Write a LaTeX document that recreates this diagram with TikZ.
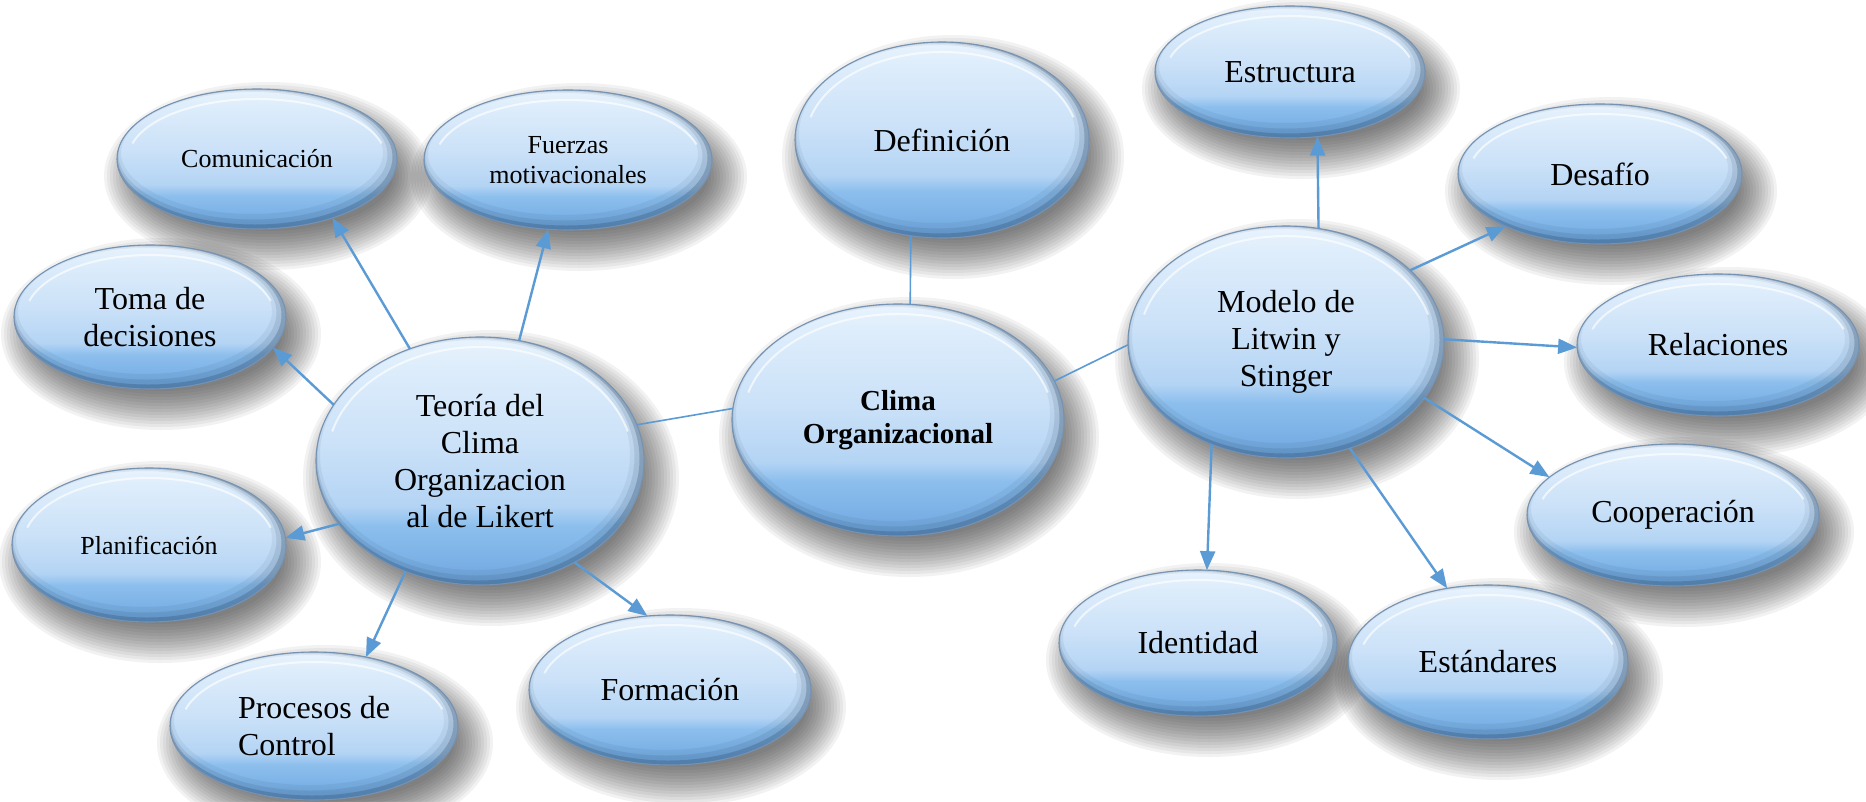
\documentclass[tikz,border=0pt]{standalone}
\usepackage{fontspec}
\setmainfont{Liberation Serif}
\usetikzlibrary{shapes.geometric, arrows.meta, calc}

\pgfdeclarelayer{shadowlayer}
\pgfsetlayers{shadowlayer,main}

% palette
\definecolor{linkblue}{HTML}{5B9BD5}
\definecolor{bubA}{HTML}{6EA5DC}
\definecolor{bubB}{HTML}{7DB3E7}
\definecolor{bubC}{HTML}{8DBFED}
\definecolor{bubD}{HTML}{B4D4F4}
\definecolor{bubE}{HTML}{CCE2F8}
\definecolor{bubF}{HTML}{DCECFB}
\definecolor{bubG}{HTML}{E8F3FD}
\definecolor{rimcol}{HTML}{7592B2}
\definecolor{bevelcol}{HTML}{23405F}
\definecolor{shadowcol}{HTML}{202020}

% vertical fill of the bubbles (path spans 25bp..75bp)
\pgfdeclareverticalshading{bubblefill}{100bp}{%
  color(0bp)=(bubA); color(25bp)=(bubA); color(31bp)=(bubB);
  color(37bp)=(bubC); color(41bp)=(bubD); color(54bp)=(bubE);
  color(68bp)=(bubF); color(75bp)=(bubG); color(100bp)=(bubG)}

\tikzset{
  shadowstep/.style={fill=shadowcol, fill opacity=.055},
  bevel/.style={draw=bevelcol},
  gloss/.style={draw=white, line width=2pt, draw opacity=.65},
  rim/.style={draw=rimcol, line width=1.1pt},
  bubblenode/.style={ellipse, inner sep=0pt, outer sep=0pt, align=center,
      text=black},
  bigtext/.style={font=\fontsize{32}{37}\selectfont},
  smalltext/.style={font=\fontsize{26}{30}\selectfont},
  boldtext/.style={font=\fontsize{29}{33}\selectfont\bfseries},
  plainlink/.style={draw=linkblue, line width=1.6pt},
  arrowlink/.style={draw=linkblue, line width=2.4pt,
      -{Triangle[length=19pt, width=15pt]}},
}

% #1 name, #2 x, #3 y, #4 x radius, #5 y radius, #6 text style, #7 text
\newcommand\drawbubble[7]{%
  \begin{pgfonlayer}{shadowlayer}
    % soft drop shadow, built from stacked translucent ellipses
    \foreach \k in {0,...,13}{
      \fill[shadowstep] ($(#2,#3)+(11,17)$)
        ellipse [x radius={#4+24-3*\k}, y radius={#5+24-3*\k}];
    }
  \end{pgfonlayer}
  \shade[shading=bubblefill] (#2,#3) ellipse [x radius=#4, y radius=#5];
  \begin{scope}
    \clip (#2,#3) ellipse [x radius=#4, y radius=#5];
    \draw[bevel, line width=18pt, draw opacity=.07]
      ($(#2,#3)+(-5,-6)$) ellipse [x radius=#4, y radius=#5];
    \draw[bevel, line width=11pt, draw opacity=.12]
      ($(#2,#3)+(-4,-4)$) ellipse [x radius=#4, y radius=#5];
    \draw[bevel, line width=5pt, draw opacity=.25]
      ($(#2,#3)+(-2,-2)$) ellipse [x radius=#4, y radius=#5];
    \draw[gloss] ($(#2,#3)+({(#4-11)*cos(195)},{(#5-10)*sin(195)})$)
      arc [start angle=195, end angle=345, x radius={#4-11}, y radius={#5-10}];
  \end{scope}
  \draw[rim] (#2,#3) ellipse [x radius=#4, y radius=#5];
  \node[bubblenode, #6, minimum width={2*#4pt}, minimum height={2*#5pt}]
    (#1) at (#2,#3) {#7};
}

\begin{document}
\begin{tikzpicture}[x=1pt, y=-1pt]
  \begin{pgfonlayer}{shadowlayer}
    \fill[white] (0,0) rectangle (1866,801);
  \end{pgfonlayer}
  \useasboundingbox (0,0) rectangle (1866,801);

  % central concept and the two theories
  \drawbubble{clima}{898}{420}{166}{116}{boldtext}{Clima\\Organizacional}
  \drawbubble{teoria}{480}{461}{164}{124}{bigtext}{Teoría del\\Clima\\Organizacion\\al de Likert}
  \drawbubble{modelo}{1286}{342}{158}{116}{bigtext}{Modelo de\\Litwin y\\Stinger}
  \drawbubble{defin}{942}{140}{147}{98}{bigtext}{Definición}

  % Likert dimensions
  \drawbubble{comun}{257}{159}{140}{70}{smalltext}{Comunicación}
  \drawbubble{fuerzas}{568}{160}{144}{70}{smalltext}{Fuerzas\\motivacionales}
  \drawbubble{toma}{150}{317}{136}{72}{bigtext}{Toma de\\decisiones}
  \drawbubble{planif}{149}{545}{137}{77}{smalltext}{Planificación}
  \drawbubble{procesos}{314}{726}{144}{74}{bigtext, align=left}{Procesos de\\Control}
  \drawbubble{formacion}{670}{690}{141}{75}{bigtext}{Formación}

  % Litwin and Stinger dimensions
  \drawbubble{estructura}{1290}{72}{135}{66}{bigtext}{Estructura}
  \drawbubble{desafio}{1600}{174}{142}{70}{bigtext}{Desafío}
  \drawbubble{relaciones}{1718}{345}{141}{71}{bigtext}{Relaciones}
  \drawbubble{cooperacion}{1673}{515}{146}{71}{bigtext}{Cooperación}
  \drawbubble{identidad}{1198}{643}{139}{73}{bigtext}{Identidad}
  \drawbubble{estandares}{1488}{662}{140}{77}{bigtext}{Estándares}

  % plain links around the central concept
  \draw[plainlink] (teoria.13) -- (clima.176);
  \draw[plainlink] (clima.14) -- (modelo.181);
  \draw[plainlink] (clima.84) -- (defin.252);

  % Likert arrows
  \draw[arrowlink] (teoria.122) -- (comun.-38);
  \draw[arrowlink] (teoria.72) -- (fuerzas.254);
  \draw[arrowlink] (teoria.159) -- (toma.-14);
  \draw[arrowlink] (teoria.204) -- (planif.3);
  \draw[arrowlink] (teoria.236) -- (procesos.53);
  \draw[arrowlink] (teoria.-47) -- (formacion.107);

  % Litwin and Stinger arrows
  \draw[arrowlink] (modelo.74) -- (estructura.-67);
  \draw[arrowlink] (modelo.30) -- (desafio.209);
  \draw[arrowlink] (modelo.1) -- (relaciones.181);
  \draw[arrowlink] (modelo.-22) -- (cooperacion.163);
  \draw[arrowlink] (modelo.234) -- (identidad.83);
  \draw[arrowlink] (modelo.-59) -- (estandares.119);
\end{tikzpicture}
\end{document}
